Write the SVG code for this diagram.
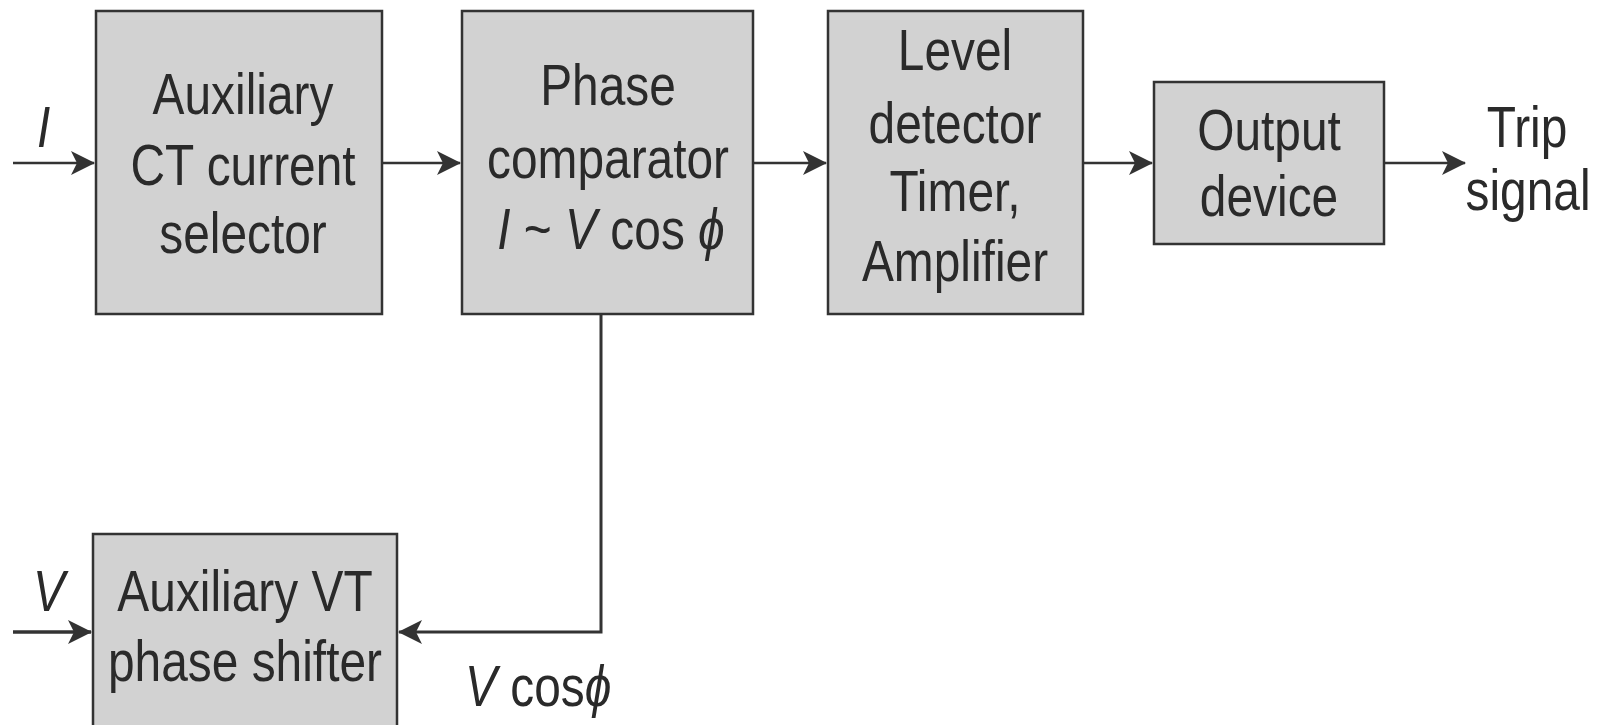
<svg xmlns="http://www.w3.org/2000/svg" width="1604" height="725" viewBox="0 0 1604 725">
<style>
.box{fill:#d2d2d2;stroke:#333;stroke-width:2.5}
.t{font-family:"Liberation Sans",Arial,sans-serif;font-size:57px;fill:#2a2a2a;text-anchor:middle}
.l{font-family:"Liberation Sans",Arial,sans-serif;font-size:57px;fill:#2a2a2a}
.i{font-style:italic}
.c{fill:none;stroke:#333;stroke-width:2.5}
</style>
<defs>
<marker id="ah" markerUnits="userSpaceOnUse" markerWidth="26" markerHeight="26" refX="23" refY="13" orient="auto">
<path d="M0,1 L24,13 L0,25 L6,13 Z" fill="#333"/>
</marker>
</defs>
<g id="connectors">
<line class="c" x1="13" y1="163" x2="94" y2="163" marker-end="url(#ah)"/>
<line class="c" x1="382" y1="163" x2="460" y2="163" marker-end="url(#ah)"/>
<line class="c" x1="753" y1="163" x2="826" y2="163" marker-end="url(#ah)"/>
<line class="c" x1="1083" y1="163" x2="1152" y2="163" marker-end="url(#ah)"/>
<line class="c" x1="1384" y1="163" x2="1465" y2="163" marker-end="url(#ah)"/>
<polyline class="c" points="601,314 601,632 399,632" marker-end="url(#ah)" style="stroke-width:3"/>
<line class="c" x1="13" y1="632" x2="91" y2="632" marker-end="url(#ah)" style="stroke-width:3.5"/>
</g>
<g id="aux-ct">
<rect class="box" x="96" y="11" width="286" height="303"/>
<text class="t" transform="matrix(0.84 0 0 1 243 114)">Auxiliary</text>
<text class="t" transform="matrix(0.84 0 0 1 243 185)">CT current</text>
<text class="t" transform="matrix(0.84 0 0 1 243 253)">selector</text>
</g>
<g id="phase-comparator">
<rect class="box" x="462" y="11" width="291" height="303"/>
<text class="t" transform="matrix(0.84 0 0 1 608 105)">Phase</text>
<text class="t" transform="matrix(0.84 0 0 1 608 178)">comparator</text>
<text class="t" transform="matrix(0.84 0 0 1 611 249)"><tspan class="i">I</tspan> ~ <tspan class="i">V</tspan> cos <tspan class="i">ϕ</tspan></text>
</g>
<g id="level-detector">
<rect class="box" x="828" y="11" width="255" height="303"/>
<text class="t" transform="matrix(0.84 0 0 1 955 70)">Level</text>
<text class="t" transform="matrix(0.84 0 0 1 955 143)">detector</text>
<text class="t" transform="matrix(0.84 0 0 1 955 211)">Timer,</text>
<text class="t" transform="matrix(0.84 0 0 1 955 281)">Amplifier</text>
</g>
<g id="output-device">
<rect class="box" x="1154" y="82" width="230" height="162"/>
<text class="t" transform="matrix(0.84 0 0 1 1269 150)">Output</text>
<text class="t" transform="matrix(0.84 0 0 1 1269 216)">device</text>
</g>
<g id="trip-signal">
<text class="t" transform="matrix(0.84 0 0 1 1527 147)">Trip</text>
<text class="t" transform="matrix(0.84 0 0 1 1528 210)">signal</text>
</g>
<g id="aux-vt">
<rect class="box" x="93" y="534" width="304" height="200"/>
<text class="t" transform="matrix(0.84 0 0 1 245 611)">Auxiliary VT</text>
<text class="t" transform="matrix(0.84 0 0 1 245 681)">phase shifter</text>
</g>
<g id="labels">
<text class="l i" transform="matrix(0.84 0 0 1 37 147)">I</text>
<text class="l i" transform="matrix(0.84 0 0 1 33 611)">V</text>
<text class="l" transform="matrix(0.84 0 0 1 465 706)"><tspan class="i">V</tspan> cos<tspan class="i">ϕ</tspan></text>
</g>
</svg>
